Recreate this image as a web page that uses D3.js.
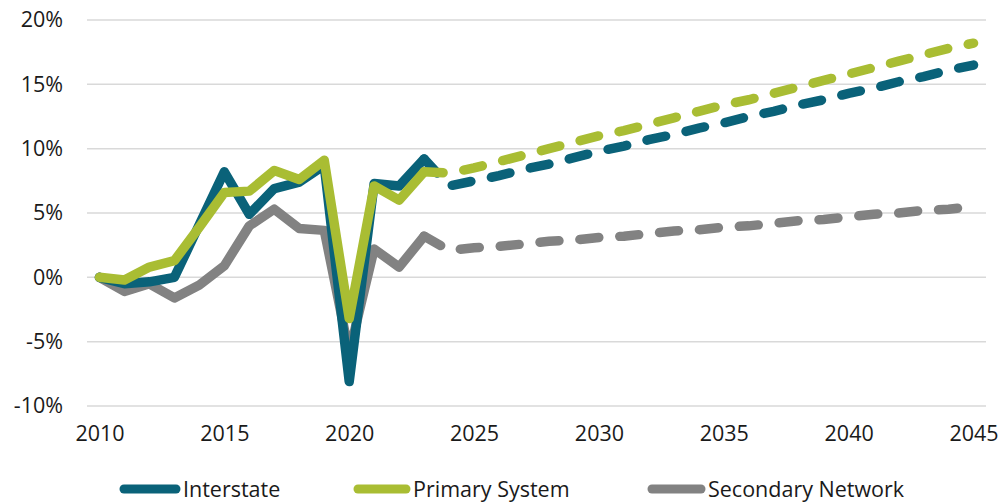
<!DOCTYPE html>
<html>
<head>
<meta charset="utf-8">
<script src="https://cdn.jsdelivr.net/npm/d3@7"></script>
<style>
  html, body { margin: 0; padding: 0; background: #ffffff; }
  svg { display: block; }
  text { font-family: "Open Sans", "Noto Sans", sans-serif; fill: #1a1a1a; }
</style>
</head>
<body>
<svg id="chart" width="1000" height="502"></svg>
<script>
// ---- data (percent change vs 2010) ----
const histYears = [2010, 2011, 2012, 2013, 2014, 2015, 2016, 2017, 2018, 2019, 2020, 2021, 2022, 2023];
const interstateHist = [0, -0.5, -0.35, 0.0, 4.1, 8.2, 4.9, 6.9, 7.4, 8.7, -8.1, 7.3, 7.1, 9.2];
const primaryHist    = [0, -0.2, 0.8, 1.3, 3.9, 6.6, 6.7, 8.3, 7.6, 9.1, -3.2, 7.1, 6.0, 8.2];
const secondaryHist  = [0, -1.1, -0.5, -1.6, -0.6, 0.9, 4.0, 5.3, 3.8, 3.65, -5.9, 2.2, 0.8, 3.2];

const fcstYears = [2023, 2024, 2025, 2026, 2027, 2028, 2029, 2030, 2031, 2032, 2033, 2034,
                   2035, 2036, 2037, 2038, 2039, 2040, 2041, 2042, 2043, 2044, 2045];
const interstateFcst = [9.2, 7.1, 7.5, 7.9, 8.4, 8.8, 9.3, 9.8, 10.2, 10.7, 11.1, 11.6,
                        12.0, 12.5, 12.9, 13.4, 13.8, 14.3, 14.7, 15.2, 15.6, 16.1, 16.5];
const primaryFcst    = [8.2, 8.1, 8.5, 9.0, 9.5, 10.0, 10.5, 11.0, 11.4, 11.9, 12.4, 12.9,
                        13.4, 13.8, 14.3, 14.8, 15.3, 15.8, 16.3, 16.8, 17.3, 17.8, 18.2];
const secondaryFcst  = [3.2, 2.1, 2.3, 2.4, 2.6, 2.8, 2.9, 3.1, 3.2, 3.4, 3.6, 3.7,
                        3.9, 4.0, 4.2, 4.4, 4.5, 4.7, 4.9, 5.0, 5.2, 5.3, 5.5];

const allYears = d3.range(2010, 2046);
const xTickLabels = ["2010", "2015", "2020", "2025", "2030", "2035", "2040", "2045"];
const yTickValues = [-10, -5, 0, 5, 10, 15, 20];
const seriesNames = ["Interstate", "Primary System", "Secondary Network"];
const seriesColors = ["#0a6279", "#a9bd33", "#828282"];

// ---- layout ----
const svg = d3.select("#chart");
const plotLeft = 87, plotRight = 986, plotTop = 20, plotBottom = 406;
const fontSize = 21.5;

const x = d3.scalePoint().domain(allYears).range([plotLeft, plotRight]).padding(0.5);
const y = d3.scaleLinear().domain([-10, 20]).range([plotBottom, plotTop]);

// gridlines
svg.append("g").selectAll("line").data(yTickValues).join("line")
  .attr("x1", plotLeft).attr("x2", plotRight)
  .attr("y1", d => y(d)).attr("y2", d => y(d))
  .attr("stroke", "#d9d9d9").attr("stroke-width", 1.5);

// y axis labels
const yAxis = d3.axisLeft(y).tickValues(yTickValues).tickFormat(d => d + "%").tickSize(0).tickPadding(0);
const yg = svg.append("g").attr("transform", `translate(${plotLeft - 24},0)`).call(yAxis);
yg.select(".domain").remove();
yg.selectAll("text").attr("font-size", fontSize).attr("font-family", null).attr("fill", "#1a1a1a");

// x axis labels
const xAxis = d3.axisBottom(x).tickValues(xTickLabels.map(Number)).tickFormat(d => String(d)).tickSize(0).tickPadding(0);
const xg = svg.append("g").attr("transform", `translate(0,${plotBottom + 20})`).call(xAxis);
xg.select(".domain").remove();
xg.selectAll("text").attr("font-size", fontSize).attr("font-family", null).attr("fill", "#1a1a1a");

// lines
const line = d3.line().x(d => x(d[0])).y(d => y(d[1]));
const hist = [interstateHist, primaryHist, secondaryHist];
const fcst = [interstateFcst, primaryFcst, secondaryFcst];
const drawOrder = [2, 0, 1];

drawOrder.forEach(i => {
  svg.append("path")
    .datum(histYears.map((yr, k) => [yr, hist[i][k]]))
    .attr("d", line)
    .attr("fill", "none")
    .attr("stroke", seriesColors[i])
    .attr("stroke-width", 9.5)
    .attr("stroke-linejoin", "round")
    .attr("stroke-linecap", "round");
});
drawOrder.forEach(i => {
  svg.append("path")
    .datum(fcstYears.map((yr, k) => [yr, fcst[i][k]]))
    .attr("d", line)
    .attr("fill", "none")
    .attr("stroke", seriesColors[i])
    .attr("stroke-width", 9.5)
    .attr("stroke-dasharray", "19,21")
    .attr("stroke-linecap", "round");
});

// legend
const legendItems = [
  { sx: 120, tx: 183 },
  { sx: 354, tx: 413 },
  { sx: 648, tx: 708 }
];
const lg = svg.append("g");
seriesNames.forEach((name, i) => {
  const it = legendItems[i];
  lg.append("line")
    .attr("x1", it.sx + 4).attr("x2", it.tx - 7)
    .attr("y1", 489).attr("y2", 489)
    .attr("stroke", seriesColors[i]).attr("stroke-width", 9)
    .attr("stroke-linecap", "round");
  lg.append("text")
    .attr("x", it.tx).attr("y", 496.5)
    .attr("font-size", fontSize)
    .text(name);
});
</script>
</body>
</html>
